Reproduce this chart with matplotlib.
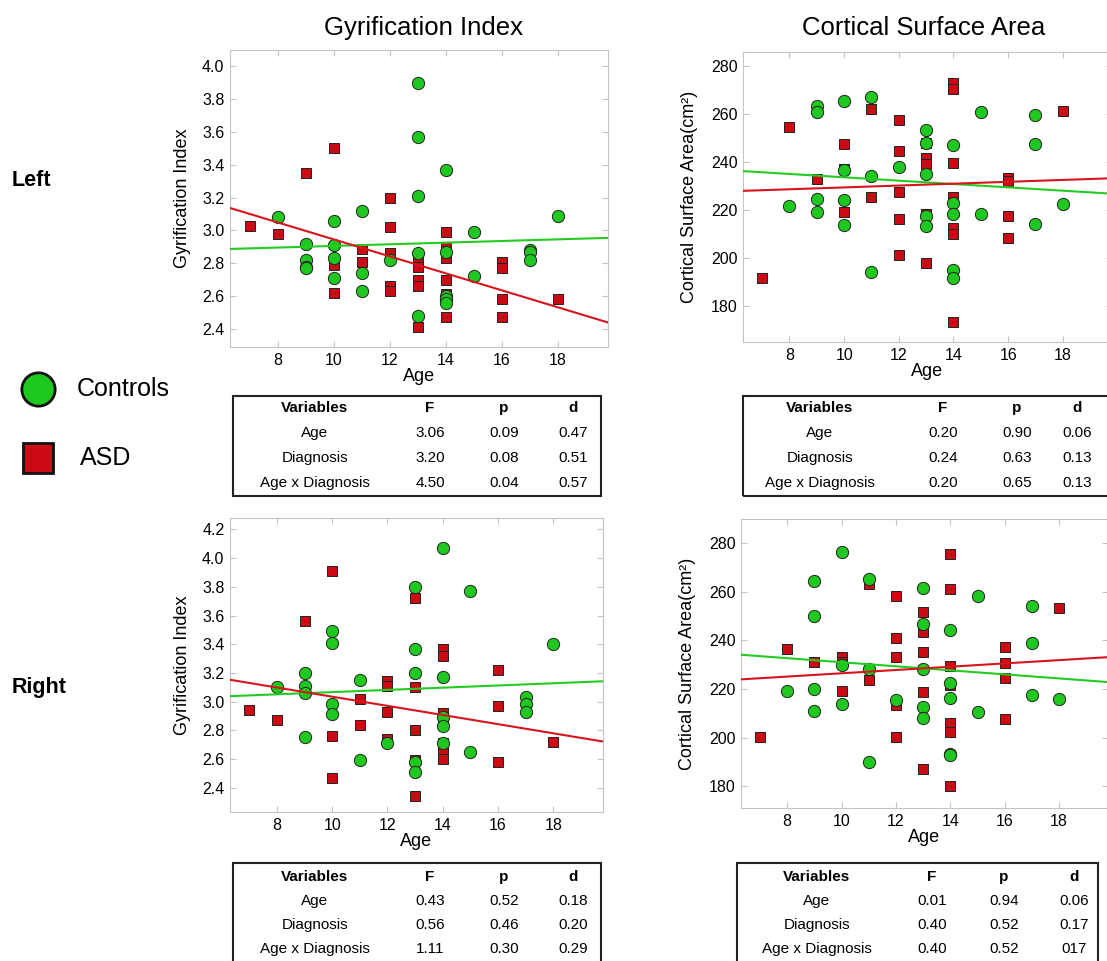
import numpy as np
import matplotlib
matplotlib.use("Agg")
import matplotlib.pyplot as plt
from matplotlib.patches import Rectangle
from matplotlib.lines import Line2D

plt.rcParams['font.family'] = ['Liberation Sans', 'DejaVu Sans']

# ---- data ----
# Left hemisphere, gyrification index
lgi_ctrl_age = [8, 9, 9, 9, 9, 10, 10, 10, 10, 11, 11, 11, 12, 13, 13, 13, 13, 13,
                14, 14, 14, 14, 14, 15, 15, 17, 17, 17, 18]
lgi_ctrl_val = [3.08, 2.92, 2.82, 2.78, 2.77, 3.06, 2.91, 2.83, 2.71, 3.12, 2.74, 2.63,
                2.82, 3.90, 3.57, 3.21, 2.86, 2.48, 3.37, 2.87, 2.60, 2.58, 2.56,
                2.99, 2.72, 2.88, 2.87, 2.82, 3.09]
lgi_asd_age = [7, 8, 9, 10, 10, 10, 11, 11, 12, 12, 12, 12, 12, 13, 13, 13, 13, 13,
               14, 14, 14, 14, 14, 14, 16, 16, 16, 16, 18]
lgi_asd_val = [3.03, 2.98, 3.35, 3.50, 2.79, 2.62, 2.89, 2.81, 3.20, 3.02, 2.86, 2.66,
               2.63, 2.82, 2.78, 2.70, 2.66, 2.41, 2.99, 2.90, 2.83, 2.70, 2.61, 2.47,
               2.81, 2.77, 2.58, 2.47, 2.58]

# Left hemisphere, cortical surface area
lsa_ctrl_age = [8, 9, 9, 9, 9, 10, 10, 10, 10, 11, 11, 11, 12, 13, 13, 13, 13, 13,
                14, 14, 14, 14, 14, 15, 15, 17, 17, 17, 18]
lsa_ctrl_val = [221.8, 263.3, 260.8, 224.5, 219.2, 265.6, 236.8, 224.4, 213.9, 267.2,
                234.1, 194.4, 238.0, 253.4, 248.2, 235.2, 217.5, 213.3, 247.1, 223.0,
                218.6, 194.9, 191.7, 261.0, 218.4, 259.6, 247.8, 214.4, 222.4]
lsa_asd_age = [7, 8, 9, 10, 10, 10, 11, 11, 12, 12, 12, 12, 12, 13, 13, 13, 13, 13,
               14, 14, 14, 14, 14, 14, 14, 16, 16, 16, 16, 18]
lsa_asd_val = [191.9, 254.9, 233.1, 247.8, 237.3, 219.2, 262.4, 225.5, 257.7, 244.6,
               227.4, 216.5, 201.5, 247.9, 241.6, 239.3, 218.2, 198.1, 273.0, 270.5,
               239.6, 225.5, 212.5, 210.0, 173.3, 233.4, 232.3, 217.5, 208.6, 261.5]

# Right hemisphere, gyrification index
rgi_ctrl_age = [8, 9, 9, 9, 9, 10, 10, 10, 10, 11, 11, 12, 13, 13, 13, 13, 13,
                14, 14, 14, 14, 14, 15, 15, 17, 17, 17, 18]
rgi_ctrl_val = [3.10, 3.20, 3.11, 3.06, 2.75, 3.49, 3.41, 2.98, 2.91, 3.15, 2.59, 2.71,
                3.80, 3.37, 3.20, 2.58, 2.51, 4.07, 3.17, 2.89, 2.83, 2.71, 3.77, 2.65,
                3.03, 2.98, 2.93, 3.40]
rgi_asd_age = [7, 8, 9, 10, 10, 10, 11, 11, 12, 12, 12, 12, 13, 13, 13, 13, 13,
               14, 14, 14, 14, 14, 14, 14, 16, 16, 16, 18]
rgi_asd_val = [2.94, 2.87, 3.56, 3.91, 2.76, 2.47, 3.02, 2.84, 3.14, 3.11, 2.93, 2.74,
               3.72, 3.10, 2.80, 2.59, 2.34, 3.37, 3.32, 2.92, 2.85, 2.71, 2.67, 2.60,
               3.22, 2.97, 2.58, 2.72]

# Right hemisphere, cortical surface area
rsa_ctrl_age = [8, 9, 9, 9, 9, 10, 10, 10, 11, 11, 11, 12, 13, 13, 13, 13, 13,
                14, 14, 14, 14, 14, 15, 15, 17, 17, 17, 18]
rsa_ctrl_val = [219.3, 264.5, 250.0, 219.9, 211.1, 276.6, 229.7, 213.7, 265.1, 228.4,
                190.0, 215.4, 261.7, 246.7, 228.3, 212.5, 208.1, 244.4, 222.6, 216.3,
                193.3, 192.8, 258.3, 210.5, 254.1, 239.1, 217.7, 215.8]
rsa_asd_age = [7, 8, 9, 10, 10, 10, 11, 11, 12, 12, 12, 12, 12, 13, 13, 13, 13, 13,
               14, 14, 14, 14, 14, 14, 14, 16, 16, 16, 16, 18]
rsa_asd_val = [200.4, 236.4, 231.2, 233.0, 231.2, 219.3, 263.2, 223.7, 258.1, 241.2,
               233.1, 213.3, 200.2, 251.8, 243.5, 235.3, 218.9, 186.9, 275.7, 261.3,
               229.5, 221.7, 206.1, 202.4, 180.0, 237.5, 230.8, 224.7, 207.8, 253.2]

# regression lines (intercept, slope) per panel: controls / ASD
ctrl_fit = [(2.856, 0.0050), (240.7, -0.698), (2.989, 0.0077), (239.35, -0.833)]
asd_fit = [(3.463, -0.0517), (225.6, 0.39), (3.353, -0.0319), (219.7, 0.677)]

table_header = ["Variables", "F", "p", "d"]
table_rows = [
    [["Age", "3.06", "0.09", "0.47"], ["Diagnosis", "3.20", "0.08", "0.51"],
     ["Age x Diagnosis", "4.50", "0.04", "0.57"]],
    [["Age", "0.20", "0.90", "0.06"], ["Diagnosis", "0.24", "0.63", "0.13"],
     ["Age x Diagnosis", "0.20", "0.65", "0.13"]],
    [["Age", "0.43", "0.52", "0.18"], ["Diagnosis", "0.56", "0.46", "0.20"],
     ["Age x Diagnosis", "1.11", "0.30", "0.29"]],
    [["Age", "0.01", "0.94", "0.06"], ["Diagnosis", "0.40", "0.52", "0.17"],
     ["Age x Diagnosis", "0.40", "0.52", "017"]],
]

GREEN = "#1fc81f"
RED = "#cc0a14"
LGREEN = "#22cc22"
LRED = "#d8141c"

W, H = 1107, 961
fig = plt.figure(figsize=(W / 100, H / 100), dpi=100)


def fx(px):
    return px / W


def fy(py):
    return 1 - py / H


def panel(rect, c_age, c_val, a_age, a_val, cfit, afit, ylim, yticks, yfmt, ylabel, lpad):
    l, t, r, b = rect
    ax = fig.add_axes([fx(l), fy(b), fx(r - l), (b - t) / H])
    xlim = (6.3, 19.8)
    ax.scatter(a_age, a_val, marker="s", s=42, c=RED, edgecolors="#222222",
               linewidths=0.7, zorder=3)
    ax.scatter(c_age, c_val, marker="o", s=78, c=GREEN, edgecolors="#222222",
               linewidths=0.7, zorder=3)
    xs = np.array(xlim)
    ax.plot(xs, cfit[0] + cfit[1] * xs, color=LGREEN, lw=1.5, zorder=4)
    ax.plot(xs, afit[0] + afit[1] * xs, color=LRED, lw=1.5, zorder=4)
    ax.set_xlim(*xlim)
    ax.set_ylim(*ylim)
    ax.set_xticks([8, 10, 12, 14, 16, 18])
    ax.set_yticks(yticks)
    ax.set_yticklabels([yfmt.format(v) for v in yticks])
    for s in ax.spines.values():
        s.set_color("#c4c4c4")
    ax.tick_params(direction="in", length=4, color="#c4c4c4", labelsize=11.5,
                   top=True, right=True, pad=4)
    ax.set_xlabel("Age", fontsize=13, labelpad=0)
    ax.set_ylabel(ylabel, fontsize=13, labelpad=lpad)
    return ax


gi_ticks = [2.4, 2.6, 2.8, 3.0, 3.2, 3.4, 3.6, 3.8, 4.0]
gi_ticks_r = gi_ticks + [4.2]
sa_ticks = [180, 200, 220, 240, 260, 280]
sa_label = "Cortical Surface Area(cm²)"

panel((230, 50, 608, 347), lgi_ctrl_age, lgi_ctrl_val, lgi_asd_age, lgi_asd_val,
      ctrl_fit[0], asd_fit[0], (2.29, 4.10), gi_ticks, "{:.1f}", "Gyrification Index", 8)
panel((743, 52, 1112, 342), lsa_ctrl_age, lsa_ctrl_val, lsa_asd_age, lsa_asd_val,
      ctrl_fit[1], asd_fit[1], (165, 286), sa_ticks, "{:d}", sa_label, 9)
panel((230, 518, 603, 812), rgi_ctrl_age, rgi_ctrl_val, rgi_asd_age, rgi_asd_val,
      ctrl_fit[2], asd_fit[2], (2.23, 4.28), gi_ticks_r, "{:.1f}", "Gyrification Index", 8)
panel((741, 519, 1108, 808), rsa_ctrl_age, rsa_ctrl_val, rsa_asd_age, rsa_asd_val,
      ctrl_fit[3], asd_fit[3], (171, 290), sa_ticks, "{:d}", sa_label, 9)

# column titles and row labels
fig.text(fx(424), fy(28), "Gyrification Index", fontsize=18.5, ha="center", va="center")
fig.text(fx(924), fy(28), "Cortical Surface Area", fontsize=18.5, ha="center", va="center")
fig.text(fx(12), fy(180), "Left", fontsize=15.5, fontweight="bold", ha="left", va="center")
fig.text(fx(12), fy(687), "Right", fontsize=15.5, fontweight="bold", ha="left", va="center")

# legend
fig.add_artist(Line2D([fx(38)], [fy(389)], marker="o", markersize=24, color=GREEN,
                      markeredgecolor="#111111", markeredgewidth=2, linestyle="none"))
fig.add_artist(Line2D([fx(38)], [fy(458)], marker="s", markersize=22, color=RED,
                      markeredgecolor="#111111", markeredgewidth=2, linestyle="none"))
fig.text(fx(77), fy(389), "Controls", fontsize=18, ha="left", va="center")
fig.text(fx(80), fy(458), "ASD", fontsize=18, ha="left", va="center")

# statistics tables
tables = [
    (233, 396, 601, 496, [315, 430, 504, 573], [408, 433, 458, 483]),
    (743, 396, 1112, 496, [820, 943, 1017, 1077], [408, 433, 458, 483]),
    (233, 863, 601, 975, [315, 430, 504, 573], [877, 901, 925, 949]),
    (737, 863, 1098, 975, [817, 932, 1004, 1074], [877, 901, 925, 949]),
]
for (l, t, r, b, cols, rows), body in zip(tables, table_rows):
    fig.add_artist(Rectangle((fx(l), fy(b)), fx(r - l), (b - t) / H, fill=False,
                             edgecolor="#222222", lw=1.5, transform=fig.transFigure))
    for cx, head in zip(cols, table_header):
        fig.text(fx(cx), fy(rows[0]), head, fontsize=11, fontweight="bold",
                 ha="center", va="center")
    for ry, row in zip(rows[1:], body):
        for cx, cell in zip(cols, row):
            fig.text(fx(cx), fy(ry), cell, fontsize=11, ha="center", va="center")

fig.savefig("out.png", dpi=100)
